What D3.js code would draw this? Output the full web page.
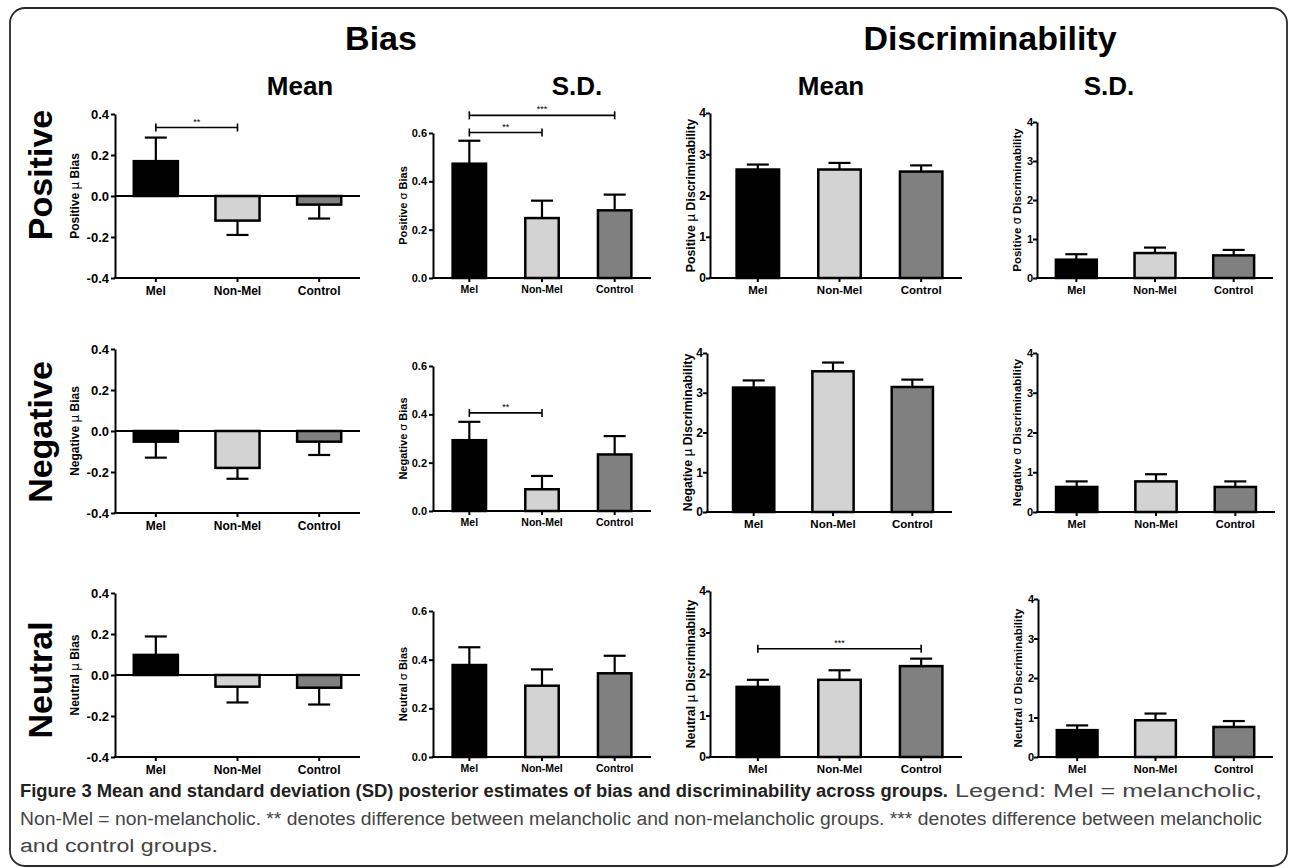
<!DOCTYPE html>
<html>
<head>
<meta charset="utf-8">
<script src="https://cdn.jsdelivr.net/npm/d3@7"></script>
<style>
  body { margin: 0; background: #fff; }
  text { font-family: "Liberation Sans", Arial, sans-serif; }
</style>
</head>
<body>
<svg id="fig" width="1290" height="868"></svg>
<script>
// groups and rows
var groups = ["Mel", "Non-Mel", "Control"];
var rowNames = ["Positive", "Negative", "Neutral"];
var groupFills = ["#000000", "#d3d3d3", "#808080"];

// values, rows = Positive, Negative, Neutral
var biasMean    = [[0.17, -0.12, -0.042], [-0.052, -0.18, -0.052], [0.098, -0.057, -0.062]];
var biasMeanErr = [[0.115, 0.07, 0.068], [0.078, 0.053, 0.065], [0.09, 0.077, 0.082]];
var biasSD      = [[0.473, 0.248, 0.28], [0.293, 0.09, 0.234], [0.378, 0.293, 0.344]];
var biasSDErr   = [[0.095, 0.072, 0.065], [0.076, 0.055, 0.076], [0.073, 0.067, 0.072]];
var discMean    = [[2.63, 2.63, 2.58], [3.13, 3.54, 3.145], [1.69, 1.86, 2.19]];
var discMeanErr = [[0.12, 0.16, 0.15], [0.18, 0.22, 0.185], [0.17, 0.23, 0.18]];
var discSD      = [[0.47, 0.64, 0.58], [0.63, 0.77, 0.63], [0.68, 0.93, 0.76]];
var discSDErr   = [[0.14, 0.14, 0.14], [0.14, 0.18, 0.14], [0.12, 0.17, 0.15]];

// tick values
var biasMeanTicks = [-0.4, -0.2, 0, 0.2, 0.4];
var biasSDTicks = [0, 0.2, 0.4, 0.6];
var discTicks = [0, 1, 2, 3, 4];

// significance brackets (row, column, from group, to group, height in data units)
var sigRow   = [0, 0, 0, 1, 2];
var sigCol   = [0, 1, 1, 1, 2];
var sigFrom  = [0, 0, 0, 0, 0];
var sigTo    = [1, 1, 2, 1, 2];
var sigAt    = [0.334, 0.602, 0.673, 0.406, 2.61];
var sigLabel = ["**", "**", "***", "**", "***"];

// caption
var captionBold = "Figure 3 Mean and standard deviation (SD) posterior estimates of bias and discriminability across groups.";
var captionRest = ["Legend: Mel = melancholic,",
  "Non-Mel = non-melancholic. ** denotes difference between melancholic and non-melancholic groups. *** denotes difference between melancholic",
  "and control groups."];

var panels = [
  {measure: "Bias", sym: "\u03bc", vals: biasMean, errs: biasMeanErr, ticks: biasMeanTicks, fmt: (d) => d.toFixed(1)},
  {measure: "Bias", sym: "\u03c3", vals: biasSD, errs: biasSDErr, ticks: biasSDTicks, fmt: (d) => d.toFixed(1)},
  {measure: "Discriminability", sym: "\u03bc", vals: discMean, errs: discMeanErr, ticks: discTicks, fmt: (d) => d},
  {measure: "Discriminability", sym: "\u03c3", vals: discSD, errs: discSDErr, ticks: discTicks, fmt: (d) => d}
];

// layout: [x axis start, x axis end, y top, y bottom] per row and column
var boxes = [
  [[115, 360, 114, 278], [433, 651, 133, 278], [710, 962, 113, 278], [1037, 1273, 122, 278]],
  [[115, 360, 349, 513], [433, 651, 366, 511], [707, 952, 353, 512], [1037, 1275, 353, 512]],
  [[115, 360, 593, 757], [433, 651, 611, 757], [710, 962, 591, 757], [1038, 1273, 599, 757]]
];
var colStyle = [
  {gap: 0, pad: 0.46, tickFont: 13, tickPad: 2, catFont: 12, titleFont: 12, titleOff: 40},
  {gap: 0, pad: 0.54, tickFont: 11, tickPad: 2, catFont: 10.5, titleFont: 11, titleOff: 30},
  {gap: 7, pad: 0.48, tickFont: 12, tickPad: 0, catFont: 11.5, titleFont: 12.3, titleOff: 19},
  {gap: 0, pad: 0.48, tickFont: 11, tickPad: 0, catFont: 11, titleFont: 11.5, titleOff: 20}
];

var svg = d3.select("#fig");

// frame
svg.append("rect")
    .attr("x", 10).attr("y", 8).attr("width", 1277).attr("height", 858).attr("rx", 15)
    .attr("fill", "none").attr("stroke", "#2a2a2a").attr("stroke-width", 1.8);

// big headers
svg.append("text").attr("x", 381).attr("y", 50).attr("text-anchor", "middle")
    .attr("font-size", 34).attr("font-weight", "bold").text("Bias");
svg.append("text").attr("x", 990).attr("y", 50).attr("text-anchor", "middle")
    .attr("font-size", 34).attr("font-weight", "bold").text("Discriminability");
var subHeads = [["Mean", 300], ["S.D.", 577], ["Mean", 831], ["S.D.", 1109]];
subHeads.forEach(function(h) {
    svg.append("text").attr("x", h[1]).attr("y", 95).attr("text-anchor", "middle")
        .attr("font-size", 26).attr("font-weight", "bold").text(h[0]);
});

// row labels
var rowCenters = [175, 432, 680];
rowNames.forEach(function(name, r) {
    svg.append("text")
        .attr("transform", "translate(40," + rowCenters[r] + ") rotate(-90)")
        .attr("text-anchor", "middle").attr("dominant-baseline", "central")
        .attr("font-size", 34).attr("font-weight", "bold").text(name);
});

// Draw one panel
function drawPanel(r, c) {
    var p = panels[c], st = colStyle[c], b = boxes[r][c];
    var g = svg.append("g");
    var dom = d3.extent(p.ticks);
    var y = d3.scaleLinear().domain(dom).range([b[3], b[2]]);
    var x = d3.scaleBand().domain(groups).range([b[0] + st.gap, b[1]])
        .paddingInner(st.pad).paddingOuter(st.pad / 2);
    var vals = p.vals[r], errs = p.errs[r];
    var data = groups.map((k, i) => ({k: k, v: vals[i], e: errs[i], fill: groupFills[i]}));

    // bars
    g.selectAll("rect.bar").data(data).enter().append("rect").classed("bar", true)
        .attr("x", (d) => x(d.k))
        .attr("width", x.bandwidth())
        .attr("y", (d) => Math.min(y(d.v), y(0)))
        .attr("height", (d) => Math.abs(y(d.v) - y(0)))
        .attr("fill", (d) => d.fill)
        .attr("stroke", "#000").attr("stroke-width", 2.5);

    // error bars (one sided)
    var capW = 22;
    var eb = g.selectAll("g.err").data(data).enter().append("g").classed("err", true);
    var tip = (d) => y(d.v >= 0 ? d.v + d.e : d.v - d.e);
    eb.append("line")
        .attr("x1", (d) => x(d.k) + x.bandwidth() / 2).attr("x2", (d) => x(d.k) + x.bandwidth() / 2)
        .attr("y1", (d) => y(d.v)).attr("y2", tip)
        .attr("stroke", "#000").attr("stroke-width", 2.2);
    eb.append("line")
        .attr("x1", (d) => x(d.k) + x.bandwidth() / 2 - capW / 2).attr("x2", (d) => x(d.k) + x.bandwidth() / 2 + capW / 2)
        .attr("y1", tip).attr("y2", tip)
        .attr("stroke", "#000").attr("stroke-width", 2.2);

    // y axis
    var ya = g.append("g").attr("transform", "translate(" + b[0] + ",0)")
        .call(d3.axisLeft(y).tickValues(p.ticks).tickFormat(p.fmt).tickSize(4).tickSizeOuter(0).tickPadding(st.tickPad));
    ya.select(".domain").attr("stroke-width", 2);
    ya.selectAll(".tick line").attr("stroke-width", 2);
    ya.selectAll(".tick text").attr("font-size", st.tickFont).attr("font-weight", "bold")
        .attr("font-family", "'Liberation Sans', Arial, sans-serif");

    // x axis at bottom
    var xa = g.append("g").attr("transform", "translate(0," + b[3] + ")")
        .call(d3.axisBottom(x).tickSize(4).tickSizeOuter(0).tickPadding(4));
    xa.select(".domain").remove();
    xa.selectAll(".tick line").attr("stroke-width", 2);
    xa.selectAll(".tick text").attr("font-size", st.catFont).attr("font-weight", "bold")
        .attr("font-family", "'Liberation Sans', Arial, sans-serif");
    g.append("line").attr("x1", b[0] - 1).attr("x2", b[1]).attr("y1", b[3]).attr("y2", b[3])
        .attr("stroke", "#000").attr("stroke-width", 2);
    if (dom[0] < 0) {
        g.append("line").attr("x1", b[0]).attr("x2", b[1]).attr("y1", y(0)).attr("y2", y(0))
            .attr("stroke", "#000").attr("stroke-width", 2);
    }

    // y title
    var t = g.append("text")
        .attr("transform", "translate(" + (b[0] - st.titleOff) + "," + ((b[2] + b[3]) / 2) + ") rotate(-90)")
        .attr("text-anchor", "middle").attr("dominant-baseline", "central")
        .attr("font-size", st.titleFont).attr("font-weight", "bold");
    t.append("tspan").text(rowNames[r] + " ");
    t.append("tspan").attr("font-weight", "normal").attr("font-family", "'DejaVu Sans', sans-serif").text(p.sym);
    t.append("tspan").text(" " + p.measure);

    // significance brackets
    sigRow.forEach(function(sr, i) {
        if (sr !== r || sigCol[i] !== c) return;
        var xa1 = x(groups[sigFrom[i]]) + x.bandwidth() / 2;
        var xa2 = x(groups[sigTo[i]]) + x.bandwidth() / 2;
        var yy = y(sigAt[i]);
        var sg = g.append("g").attr("stroke", "#000").attr("stroke-width", 1.6);
        sg.append("line").attr("x1", xa1).attr("x2", xa2).attr("y1", yy).attr("y2", yy);
        sg.append("line").attr("x1", xa1).attr("x2", xa1).attr("y1", yy - 4).attr("y2", yy + 4);
        sg.append("line").attr("x1", xa2).attr("x2", xa2).attr("y1", yy - 4).attr("y2", yy + 4);
        g.append("text").attr("x", (xa1 + xa2) / 2).attr("y", yy - 3).attr("text-anchor", "middle")
            .attr("font-size", 9).text(sigLabel[i]);
    });
}

for (var r = 0; r < rowNames.length; r++)
    for (var c = 0; c < panels.length; c++)
        drawPanel(r, c);

// caption
var capFont = "'DejaVu Sans Condensed', 'DejaVu Sans', sans-serif";
function capLine(str, x, y, len, bold) {
    svg.append("text").attr("x", x).attr("y", y).attr("font-size", 18)
        .attr("font-weight", bold ? "bold" : "normal")
        .attr("font-family", capFont).style("font-stretch", "condensed")
        .attr("fill", bold ? "#231f20" : "#444")
        .attr("textLength", len).attr("lengthAdjust", "spacingAndGlyphs").text(str);
}
capLine(captionBold, 20, 797, 928, true);
capLine(captionRest[0], 955, 797, 307, false);
capLine(captionRest[1], 20, 825, 1242, false);
capLine(captionRest[2], 20, 852, 198, false);
</script>
</body>
</html>
